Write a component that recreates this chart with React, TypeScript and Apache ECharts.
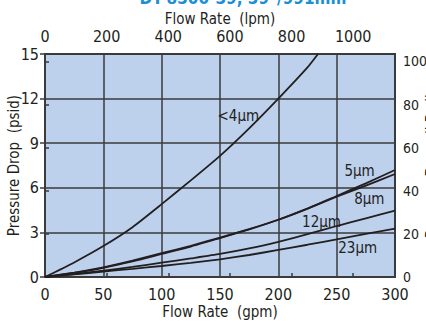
import React, { useEffect, useRef } from "react";
import * as echarts from "echarts";

// Flow rate (gpm) sample points
const flowGpm = [0, 25, 50, 75, 100, 125, 150, 175, 200, 225, 250, 275, 300];
const flowGpmFine = [0, 25, 50, 75, 100, 125, 150, 175, 200, 225, 234];

// Pressure drop (psid) per element rating
const dpLt4 = [0, 0.98, 2.08, 3.35, 4.9, 6.5, 8.15, 10.0, 12.0, 14.1, 15.0];
const dp5 = [0, 0.28, 0.62, 1.05, 1.55, 2.05, 2.62, 3.2, 3.85, 4.6, 5.45, 6.3, 7.2];
const dp8 = [0, 0.3, 0.65, 1.1, 1.6, 2.1, 2.65, 3.22, 3.85, 4.6, 5.4, 6.15, 6.93];
const dp12 = [0, 0.2, 0.42, 0.68, 0.96, 1.25, 1.55, 1.92, 2.37, 2.88, 3.43, 3.95, 4.46];
const dp23 = [0, 0.17, 0.37, 0.55, 0.74, 0.95, 1.19, 1.48, 1.82, 2.17, 2.53, 2.9, 3.25];

const seriesNames = ["<4µm", "5µm", "8µm", "12µm", "23µm"];
// label anchors in data coordinates [gpm, psid]
const labelAnchors: [number, number][] = [
  [165.7, 10.8],
  [269.6, 7.13],
  [278, 5.25],
  [237, 3.7],
  [268, 1.95],
];

const GPM_TO_LPM = 3.7854;
const PSI_TO_KPA = 6.8948;
const gpmMax = 300;
const psiMax = 15;

const FONT = "'Liberation Sans Narrow', 'DejaVu Sans Condensed', 'Roboto Condensed', sans-serif";
const INK = "#231f20";
const GRID = "#3b3b3d";

export default function App() {
  const ref = useRef<HTMLDivElement>(null);
  useEffect(() => {
    if (!ref.current) return;
    const chart = echarts.init(ref.current, undefined, { renderer: "svg" });
    const pairs = (xs: number[], ys: number[]) => ys.map((y, i) => [xs[i], y]);
    const allData = [
      pairs(flowGpmFine, dpLt4),
      pairs(flowGpm, dp5),
      pairs(flowGpm, dp8),
      pairs(flowGpm, dp12),
      pairs(flowGpm, dp23),
    ];
    const labelStyle = { fontFamily: FONT, fontSize: 15, color: INK };
    chart.setOption({
      animation: false,
      backgroundColor: "#ffffff",
      textStyle: { fontFamily: FONT, color: INK },
      graphic: [
        {
          type: "text",
          x: 243,
          y: -2,
          style: {
            text: 'DT-8300-39, 39"/991mm',
            align: "center",
            verticalAlign: "middle",
            fontFamily: FONT,
            fontWeight: "bold",
            fontSize: 17,
            fill: "#1b8fd6",
          },
        },
      ],
      grid: {
        left: 45,
        right: 31,
        top: 54,
        bottom: 45,
        containLabel: false,
        outerBoundsMode: "none",
        show: true,
        backgroundColor: "#bdd0ec",
        borderColor: GRID,
        borderWidth: 2,
      },
      xAxis: [
        {
          type: "value",
          position: "bottom",
          min: 0,
          max: gpmMax,
          interval: 50,
          name: "Flow Rate  (gpm)",
          nameLocation: "middle",
          nameMoveOverlap: false,
          nameGap: 27,
          nameTextStyle: { fontFamily: FONT, fontSize: 15, color: INK },
          axisLine: { show: true, lineStyle: { color: GRID, width: 2 } },
          axisTick: { show: false },
          axisLabel: { fontFamily: FONT, fontSize: 16, color: INK, margin: 9 },
          splitLine: { show: true, lineStyle: { color: GRID, width: 1.5 } },
        },
        {
          type: "value",
          position: "top",
          min: 0,
          max: gpmMax * GPM_TO_LPM,
          interval: 200,
          name: "Flow Rate  (lpm)",
          nameLocation: "middle",
          nameMoveOverlap: false,
          nameGap: 28,
          nameTextStyle: { fontFamily: FONT, fontSize: 15, color: INK },
          axisLine: { show: true, lineStyle: { color: GRID, width: 2 } },
          axisTick: { show: true, length: 4, lineStyle: { color: GRID, width: 1.5 } },
          axisLabel: {
            fontFamily: FONT,
            fontSize: 16,
            color: INK,
            margin: 10,
            showMaxLabel: false,
            formatter: (v: number) => (Math.abs(v % 200) < 1e-6 ? String(v) : ""),
          },
          splitLine: { show: false },
        },
      ],
      yAxis: [
        {
          type: "value",
          position: "left",
          min: 0,
          max: psiMax,
          interval: 3,
          name: "Pressure Drop  (psid)",
          nameLocation: "middle",
          nameMoveOverlap: false,
          nameGap: 24,
          nameTextStyle: { fontFamily: FONT, fontSize: 15, color: INK },
          axisLine: { show: true, lineStyle: { color: GRID, width: 2 } },
          axisTick: { show: true, length: 5, lineStyle: { color: GRID, width: 1.5 } },
          axisLabel: { fontFamily: FONT, fontSize: 16, color: INK, margin: 6 },
          splitLine: { show: true, lineStyle: { color: GRID, width: 1.5 } },
        },
        {
          type: "value",
          position: "right",
          min: 0,
          max: psiMax * PSI_TO_KPA,
          interval: 20,
          name: "Pressure Drop  (kPad)",
          nameLocation: "middle",
          nameMoveOverlap: false,
          nameGap: 29,
          nameRotate: 90,
          nameTextStyle: { fontFamily: FONT, fontSize: 15, color: INK },
          axisLine: { show: true, lineStyle: { color: GRID, width: 2 } },
          axisTick: { show: true, length: 4, lineStyle: { color: GRID, width: 1.5 } },
          axisLabel: {
            fontFamily: FONT,
            fontSize: 14,
            color: INK,
            margin: 8,
            showMaxLabel: false,
            formatter: (v: number) => (Math.abs(v % 20) < 1e-6 ? String(v) : ""),
          },
          splitLine: { show: false },
        },
      ],
      series: allData.map((d, i) => ({
        name: seriesNames[i],
        type: "line",
        xAxisIndex: 0,
        yAxisIndex: 0,
        data: d,
        smooth: 0.2,
        showSymbol: false,
        symbol: "none",
        clip: true,
        lineStyle: { color: INK, width: 1.8 },
        markPoint: {
          symbol: "circle",
          symbolSize: 0,
          silent: true,
          data: [
            {
              coord: labelAnchors[i],
              label: { show: true, position: "inside", formatter: seriesNames[i], ...labelStyle },
            },
          ],
        },
      })),
    });
    return () => chart.dispose();
  }, []);
  return (
    <div
      ref={ref}
      style={{ position: "fixed", left: 0, top: 0, width: 426, height: 322 }}
    />
  );
}
